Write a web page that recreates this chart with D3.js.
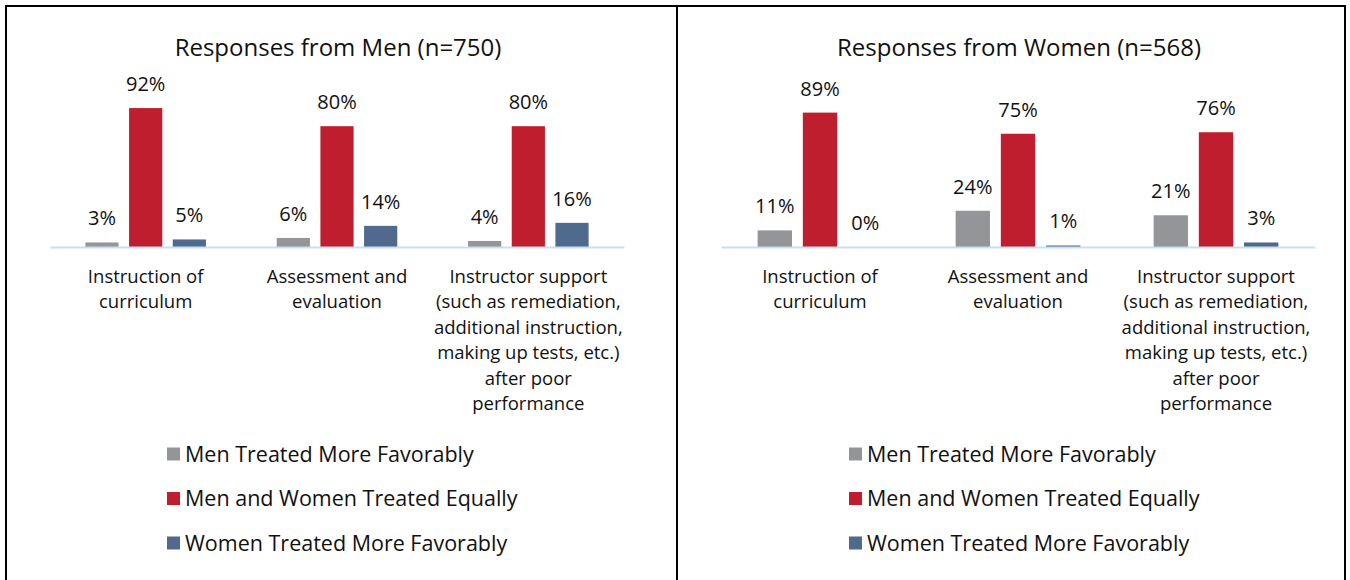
<!DOCTYPE html>
<html>
<head>
<meta charset="utf-8">
<script src="https://cdn.jsdelivr.net/npm/d3@7"></script>
<style>
  body { margin: 0; background: #fff; }
  svg { display: block; font-family: "Open Sans", sans-serif; }
</style>
</head>
<body>
<script>
// data
const series = ['Men Treated More Favorably', 'Men and Women Treated Equally', 'Women Treated More Favorably']
const colors = ['#939598', '#be1e2d', '#4f6a8c']
const categories = ['curriculum', 'assessment', 'support']
const categoryLines = [
  ['Instruction of', 'curriculum'],
  ['Assessment and', 'evaluation'],
  ['Instructor support', '(such as remediation,', 'additional instruction,', 'making up tests, etc.)', 'after poor', 'performance']
]
const menValues = [[0.03, 0.92, 0.05], [0.06, 0.80, 0.14], [0.04, 0.80, 0.16]]
const womenValues = [[0.11, 0.89, 0.00], [0.24, 0.75, 0.01], [0.21, 0.76, 0.03]]

const panels = [
  { title: 'Responses from Men (n=750)', values: menValues, box: [6, 677], axis: [50, 624], legendX: 167 },
  { title: 'Responses from Women (n=568)', values: womenValues, box: [677, 1345], axis: [721, 1315], legendX: 849 }
]

const W = 1350, H = 580
const baseY = 247

const svg = d3.select('body').append('svg').attr('width', W).attr('height', H)

const y = d3.scaleLinear().domain([0, 1]).range([baseY, baseY - 151])

panels.forEach(p => {
  const g = svg.append('g')

  // panel frame
  g.append('rect')
    .attr('x', p.box[0]).attr('y', 6)
    .attr('width', p.box[1] - p.box[0]).attr('height', H + 20)
    .attr('fill', 'none').attr('stroke', '#000').attr('stroke-width', 2)

  const cx = (p.axis[0] + p.axis[1]) / 2
  g.append('text')
    .attr('x', cx + 1).attr('y', 56)
    .attr('text-anchor', 'middle')
    .style('font-size', '24px').attr('fill', '#111')
    .text(p.title)

  const x0 = d3.scaleBand().domain(categories).range(p.axis).paddingInner(0.37).paddingOuter(0.185)
  const x1 = d3.scaleBand().domain(series).range([0, x0.bandwidth()]).paddingInner(0.24)

  const groups = g.selectAll('g.cat')
    .data(categories)
    .join('g')
      .attr('class', 'cat')
      .attr('transform', d => `translate(${x0(d)},0)`)

  const bars = groups.selectAll('g.bar')
    .data((d, i) => p.values[i].map((v, j) => ({ s: series[j], v, c: colors[j] })))
    .join('g').attr('class', 'bar')

  bars.append('rect')
    .attr('x', d => x1(d.s))
    .attr('y', d => y(d.v))
    .attr('width', x1.bandwidth())
    .attr('height', d => baseY - y(d.v))
    .attr('fill', d => d.c)

  bars.append('text')
    .attr('x', d => x1(d.s) + x1.bandwidth() / 2)
    .attr('y', d => y(d.v) - 17)
    .attr('text-anchor', 'middle')
    .style('font-size', '20px').attr('fill', '#111')
    .text(d => d3.format('.0%')(d.v))

  // axis baseline
  const axis = g.append('g').attr('transform', `translate(0,${baseY})`)
    .call(d3.axisBottom(x0).tickSize(0).tickFormat(''))
  axis.select('.domain').attr('stroke', '#c6e0f2').attr('stroke-width', 2)

  // category labels
  groups.append('text')
    .attr('text-anchor', 'middle')
    .style('font-size', '18.5px').attr('fill', '#111')
    .selectAll('tspan')
    .data((d, i) => categoryLines[i])
    .join('tspan')
      .attr('x', x0.bandwidth() / 2)
      .attr('y', (d, i) => 282.5 + i * 25.5)
      .text(d => d)

  // legend
  const leg = g.selectAll('g.leg')
    .data(series)
    .join('g').attr('class', 'leg')
    .attr('transform', (d, i) => `translate(${p.legendX},${454 + i * 44.5})`)
  leg.append('rect')
    .attr('x', 0).attr('y', -6.5).attr('width', 13).attr('height', 13)
    .attr('fill', (d, i) => colors[i])
  leg.append('text')
    .attr('x', 18).attr('y', 7.5)
    .style('font-size', '21.5px').attr('fill', '#111')
    .text(d => d)
})
</script>
</body>
</html>
